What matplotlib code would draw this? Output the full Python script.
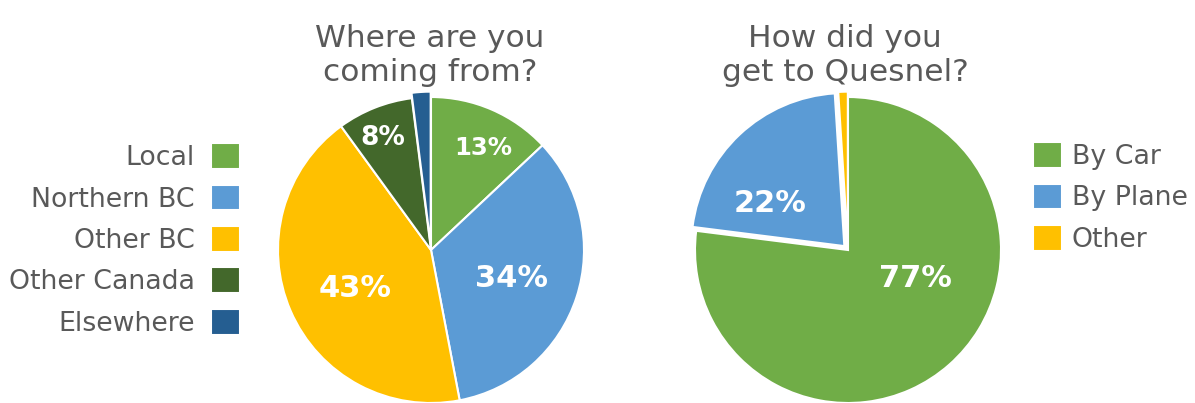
import matplotlib
matplotlib.use("Agg")
import matplotlib.pyplot as plt

# left pie: where visitors come from
origin_labels = ["Local", "Northern BC", "Other BC", "Other Canada", "Elsewhere"]
origin_values = [13, 34, 43, 8, 2]
origin_colors = ["#70AD47", "#5B9BD5", "#FFC000", "#43682B", "#255E91"]

# right pie: how they travelled
travel_labels = ["By Car", "By Plane", "Other"]
travel_values = [77, 22, 1]
travel_colors = ["#70AD47", "#5B9BD5", "#FFC000"]

W, H = 1195, 403
R = 153  # pie radius in pixels
BOX = 420
text_col = "#595959"

plt.rcParams["font.family"] = ["DejaVu Sans"]

fig = plt.figure(figsize=(W / 100, H / 100), dpi=100)


def pie_axes(cx, cy):
    # cx, cy in pixels from top-left
    ax = fig.add_axes([(cx - BOX / 2) / W, (H - cy - BOX / 2) / H, BOX / W, BOX / H])
    ax.axis("off")
    return ax


def fix_limits(ax):
    lim = BOX / 2 / R
    ax.set_xlim(-lim, lim)
    ax.set_ylim(-lim, lim)
    ax.set_aspect("equal")


def pct_labels(ax, values, spots, sizes):
    total = sum(values)
    for v, (x, y), fs in zip(values, spots, sizes):
        if x is None:
            continue
        ax.text(x, y, "%d%%" % round(100 * v / total), color="white",
                fontsize=fs, fontweight="bold", ha="center", va="baseline")


# ---- left chart
ax1 = pie_axes(431, 250)
w1, _ = ax1.pie(origin_values, colors=origin_colors, startangle=90, counterclock=False,
                explode=[0, 0, 0, 0, 0.035],
                wedgeprops=dict(edgecolor="white", linewidth=1.5))
fix_limits(ax1)
pct_labels(ax1, origin_values,
           [(0.343, 0.621), (0.529, -0.242), (-0.497, -0.307), (-0.314, 0.686), (None, None)],
           [17.5, 22, 22, 19, 0])

fig.text(430 / W, 1 - 81 / H, "Where are you\ncoming from?", ha="center", va="baseline",
         fontsize=22.5, color=text_col, linespacing=1.2)

fig.legend(w1, origin_labels, loc="center right",
           bbox_to_anchor=(240 / W, 1 - 240 / H), frameon=False, markerfirst=False,
           fontsize=19.3, labelcolor=text_col, handlelength=1.1, handleheight=1.1,
           handletextpad=0.6, labelspacing=0.5, borderpad=0, borderaxespad=0)

# ---- right chart
ax2 = pie_axes(848, 250)
w2, _ = ax2.pie(travel_values, colors=travel_colors, startangle=90, counterclock=False,
                explode=[0, 0.035, 0.035],
                wedgeprops=dict(edgecolor="white", linewidth=1.5))
fix_limits(ax2)
pct_labels(ax2, travel_values,
           [(0.438, -0.242), (-0.51, 0.248), (None, None)],
           [22, 22, 0])

fig.text(845 / W, 1 - 81 / H, "How did you\nget to Quesnel?", ha="center", va="baseline",
         fontsize=22.5, color=text_col, linespacing=1.2)

fig.legend(w2, travel_labels, loc="center left",
           bbox_to_anchor=(1033 / W, 1 - 197.5 / H), frameon=False,
           fontsize=19.3, labelcolor=text_col, handlelength=1.1, handleheight=1.1,
           handletextpad=0.35, labelspacing=0.5, borderpad=0, borderaxespad=0)

fig.savefig("out.png", dpi=100)
